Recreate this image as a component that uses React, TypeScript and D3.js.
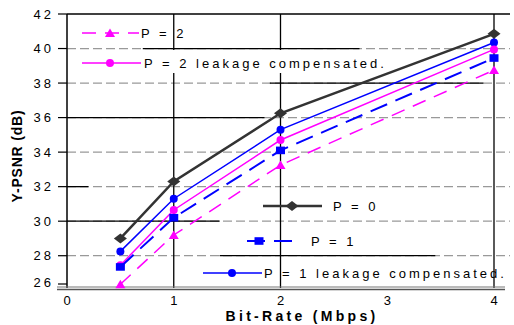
import React from "react";
import * as d3 from "d3";

// bit-rate values (Mbps) where every curve was measured
const bitRates = [0.5, 1, 2, 4];

// Y-PSNR (dB) for each curve
const psnrP0 = [29.0, 32.3, 36.25, 40.85];
const psnrP1Comp = [28.25, 31.3, 35.3, 40.35];
const psnrP2Comp = [27.45, 30.65, 34.7, 39.95];
const psnrP1 = [27.35, 30.2, 34.1, 39.45];
const psnrP2 = [26.35, 29.2, 33.25, 38.75];

const xTicks = [0, 1, 2, 3, 4];
const yTicks = [26, 28, 30, 32, 34, 36, 38, 40, 42];
const vGridAt = [1, 2, 4];

const W = 514;
const H = 325;

// scan pixels: 0 -> 67, 4 -> 494 ; 42 -> 14, axis bottom at 288
const x = d3.scaleLinear().domain([0, 4]).range([67, 494]);
const y = d3.scaleLinear().domain([26.13, 42]).range([288, 14]).clamp(true);

type Marker = "diamond" | "circle" | "square" | "triangle";

const series = [
  { name: "P = 0", values: psnrP0, color: "#333333", width: 2.5, dash: "", marker: "diamond" as Marker },
  { name: "P = 1 leakage compensated.", values: psnrP1Comp, color: "#0000ff", width: 1.5, dash: "", marker: "circle" as Marker },
  { name: "P = 2 leakage compensated.", values: psnrP2Comp, color: "#ff00ff", width: 1.5, dash: "", marker: "circle" as Marker },
  { name: "P = 1", values: psnrP1, color: "#0000ff", width: 2, dash: "18 9", marker: "square" as Marker },
  { name: "P = 2", values: psnrP2, color: "#ff00ff", width: 1.5, dash: "14 9", marker: "triangle" as Marker },
];

// legend placements (pixels) – line start, line end, text start, row centre
const legendLayout: Record<string, { x0: number; x1: number; tx: number; cy: number; mx: number }> = {
  "P = 2": { x0: 82, x1: 139, tx: 141, cy: 33, mx: 110 },
  "P = 2 leakage compensated.": { x0: 82, x1: 141, tx: 144, cy: 63, mx: 110 },
  "P = 0": { x0: 263, x1: 322, tx: 333, cy: 206, mx: 292 },
  "P = 1": { x0: 247, x1: 299, tx: 311, cy: 241, mx: 259 },
  "P = 1 leakage compensated.": { x0: 203, x1: 262, tx: 264, cy: 273, mx: 232 },
};

// solid black pieces on the grid (legend box borders in the original), data units
const solidSegments = [
  { v: 40, a: 0.71, b: 2.74 },
  { v: 38, a: 1.9, b: 3.9 },
  { v: 36, a: 0, b: 1.85 },
  { v: 32, a: 0, b: 0.2 },
  { v: 30, a: 0, b: 1.43 },
  { v: 28, a: 1.43, b: 3.45 },
];

function markerPath(m: Marker): string {
  switch (m) {
    case "diamond":
      return "M-6.5,0L0,-5L6.5,0L0,5Z";
    case "square":
      return "M-4.5,-3.8H4.5V3.8H-4.5Z";
    case "triangle":
      return "M-5,4L0,-4.5L5,4Z";
    default:
      return d3.symbol().type(d3.symbolCircle).size(50)() || "";
  }
}

const font = "'Liberation Sans', Arial, sans-serif";

export default function App() {
  const line = d3
    .line<number>()
    .x((_, i) => x(bitRates[i]))
    .y((v) => y(v));

  return (
    <div style={{ position: "fixed", left: 0, top: 0 }}>
      <svg width={W} height={H} style={{ display: "block", background: "#fff" }} fontFamily={font}>
        {/* horizontal dashed grid */}
        {yTicks
          .filter((t) => t > 26 && t < 42)
          .map((t) => (
            <line key={"h" + t} x1={x(0)} x2={510} y1={y(t)} y2={y(t)} stroke="#999" strokeWidth={1.2} strokeDasharray="9 4" />
          ))}
        {solidSegments.map((s, i) => (
          <line key={"s" + i} x1={x(s.a)} x2={x(s.b)} y1={y(s.v)} y2={y(s.v)} stroke="#000" strokeWidth={1.3} />
        ))}
        {/* vertical grid */}
        {vGridAt.map((v) => (
          <line key={"v" + v} x1={x(v)} x2={x(v)} y1={y(42)} y2={288} stroke="#000" strokeWidth={1.3} />
        ))}
        {/* white box behind the second legend entry */}
        <rect x={143} y={50} width={252} height={23} fill="#fff" />
        {/* frame */}
        <line x1={x(0)} x2={510} y1={y(42)} y2={y(42)} stroke="#000" strokeWidth={1.5} />
        <line x1={x(0)} x2={x(0)} y1={y(42)} y2={288} stroke="#000" strokeWidth={1.5} />
        <line x1={57} x2={505} y1={287} y2={287} stroke="#777" strokeWidth={1.2} />
        <line x1={57} x2={505} y1={289.5} y2={289.5} stroke="#555" strokeWidth={1.5} />

        {/* y ticks and labels */}
        {yTicks.map((t) => (
          <g key={"yt" + t}>
            <line x1={58} x2={x(0)} y1={t === 26 ? y(t) - 4 : y(t)} y2={t === 26 ? y(t) - 4 : y(t)} stroke="#000" strokeWidth={1.2} />
            <text
              x={54}
              y={t === 26 ? y(t) - 6 : y(t)}
              dy="0.35em"
              textAnchor="end"
              fontSize={13}
              letterSpacing={3}
            >
              {t}
            </text>
          </g>
        ))}
        {/* x tick labels */}
        {xTicks.map((t) => (
          <text key={"xt" + t} x={x(t)} y={305} textAnchor="middle" fontSize={13}>
            {t}
          </text>
        ))}

        {/* axis titles */}
        <text x={302} y={321} textAnchor="middle" fontSize={14} fontWeight="bold" letterSpacing={3.3}>
          Bit-Rate (Mbps)
        </text>
        <text
          transform="translate(22,156) rotate(-90)"
          textAnchor="middle"
          fontSize={14}
          fontWeight="bold"
          letterSpacing={0.8}
        >
          Y-PSNR (dB)
        </text>

        {/* series */}
        {series.map((s) => (
          <g key={s.name}>
            <path
              d={line(s.values) || ""}
              fill="none"
              stroke={s.color}
              strokeWidth={s.width}
              strokeDasharray={s.dash || undefined}
            />
            {s.values.map((v, i) => (
              <path key={i} d={markerPath(s.marker)} transform={`translate(${x(bitRates[i])},${y(v)})`} fill={s.color} />
            ))}
          </g>
        ))}

        {/* legend */}
        {series.map((s) => {
          const L = legendLayout[s.name];
          return (
            <g key={"lg" + s.name}>
              <line
                x1={L.x0}
                x2={L.x1}
                y1={L.cy}
                y2={L.cy}
                stroke={s.color}
                strokeWidth={s.width}
                strokeDasharray={s.dash || undefined}
              />
              <path d={markerPath(s.marker)} transform={`translate(${L.mx},${L.cy})`} fill={s.color} />
              <text x={L.tx} y={L.cy} dy="0.35em" fontSize={13} letterSpacing={3}>
                {s.name}
              </text>
            </g>
          );
        })}
      </svg>
    </div>
  );
}
